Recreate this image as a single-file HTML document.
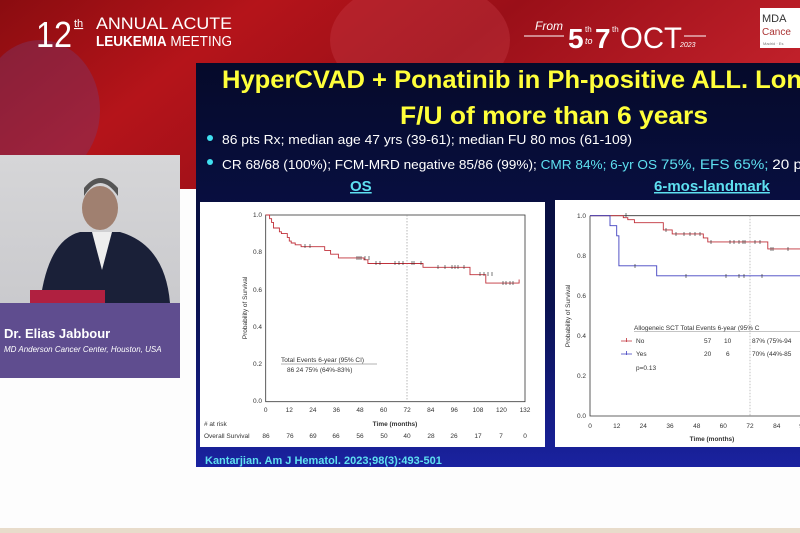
<!DOCTYPE html>
<html><head><meta charset="utf-8"><style>
html,body{margin:0;padding:0;width:800px;height:533px;overflow:hidden;background:#fff}
svg{display:block}
text{font-family:"Liberation Sans",sans-serif}
</style></head><body>
<svg width="800" height="533" viewBox="0 0 800 533" xmlns="http://www.w3.org/2000/svg">
<defs>
<linearGradient id="red" x1="0" y1="0" x2="1" y2="0.3">
<stop offset="0" stop-color="#8a0c10"/><stop offset="0.3" stop-color="#b5141a"/><stop offset="0.6" stop-color="#9a0f18"/><stop offset="1" stop-color="#c0202a"/>
</linearGradient>
<linearGradient id="slide" x1="0" y1="0" x2="0" y2="1">
<stop offset="0" stop-color="#050a2a"/><stop offset="0.6" stop-color="#0a1250"/><stop offset="1" stop-color="#1a22a0"/>
</linearGradient>
<linearGradient id="vid" x1="0" y1="0" x2="0" y2="1">
<stop offset="0" stop-color="#d6d6d8"/><stop offset="1" stop-color="#c4c4c8"/>
</linearGradient>
</defs>
<rect width="800" height="533" fill="#fdfdfd"/>
<rect x="0" y="528" width="800" height="5" fill="#e8dccb"/>
<!-- banner -->
<rect x="0" y="0" width="800" height="189" fill="url(#red)"/>
<ellipse cx="420" cy="40" rx="90" ry="60" fill="#c8404a" opacity="0.35"/>
<ellipse cx="40" cy="110" rx="60" ry="70" fill="#7a3a70" opacity="0.4"/>
<ellipse cx="630" cy="140" rx="120" ry="70" fill="#d03040" opacity="0.3"/>
<text x="36" y="47" font-size="36" fill="#fff" textLength="36" lengthAdjust="spacingAndGlyphs">12</text>
<text x="74" y="27" font-size="11" fill="#fff" text-decoration="underline">th</text>
<text x="96" y="29" font-size="17" fill="#fff" font-family="Liberation Serif,serif" textLength="136" lengthAdjust="spacingAndGlyphs">ANNUAL ACUTE</text>
<text x="96" y="46" font-size="15" fill="#fff" font-weight="bold" textLength="136" lengthAdjust="spacingAndGlyphs">LEUKEMIA<tspan font-weight="normal"> MEETING</tspan></text>
<text x="535" y="30" font-size="12" fill="#fff" font-style="italic" font-family="Liberation Serif,serif">From</text>
<line x1="524" y1="36" x2="564" y2="36" stroke="#fff" stroke-width="1"/>
<text x="568" y="48" font-size="28" fill="#fff" font-weight="bold">5</text>
<text x="585" y="32" font-size="8" fill="#fff">th</text>
<text x="585" y="44" font-size="9" fill="#fff" font-style="italic">to</text>
<text x="595" y="48" font-size="28" fill="#fff" font-weight="bold">7</text>
<text x="612" y="32" font-size="8" fill="#fff">th</text>
<text x="620" y="48" font-size="30" fill="#fff" textLength="62" lengthAdjust="spacingAndGlyphs">OCT</text>
<line x1="684" y1="36" x2="706" y2="36" stroke="#fff"/>
<text x="680" y="47" font-size="7" fill="#fff" font-style="italic">2023</text>
<rect x="760" y="8" width="40" height="40" fill="#fff"/>
<text x="762" y="22" font-size="11" fill="#333" font-family="Liberation Serif,serif">MDA</text>
<text x="762" y="35" font-size="10" fill="#a33" font-family="Liberation Serif,serif">Cance</text>
<text x="763" y="45" font-size="4" fill="#777">Madrid · Es</text>
<!-- slide -->
<rect x="196" y="63" width="604" height="404" fill="url(#slide)"/>
<text x="222" y="88" font-size="25" fill="#ffff3a" font-weight="bold" textLength="580" lengthAdjust="spacingAndGlyphs">HyperCVAD + Ponatinib in Ph-positive ALL. Lon</text>
<text x="400" y="124" font-size="25" fill="#ffff3a" font-weight="bold" textLength="308" lengthAdjust="spacingAndGlyphs">F/U of more than 6 years</text>
<circle cx="210" cy="138" r="3" fill="#40e0f0"/>
<text x="222" y="144" font-size="12.5" fill="#fff" textLength="410" lengthAdjust="spacingAndGlyphs">86 pts Rx; median age 47 yrs (39-61); median FU 80 mos (61-109)</text>
<circle cx="210" cy="162" r="3" fill="#40e0f0"/>
<text x="222" y="169" font-size="12.5" fill="#fff" textLength="580" lengthAdjust="spacingAndGlyphs">CR 68/68 (100%); FCM-MRD negative 85/86 (99%); <tspan fill="#5ee0f0">CMR 84%; 6-yr OS <tspan font-size="14">75%, EFS 65%;</tspan></tspan> <tspan font-size="14">20 p</tspan></text>
<text x="350" y="191" font-size="15" fill="#5ee0f0" font-weight="bold" text-decoration="underline">OS</text>
<text x="654" y="191" font-size="15" fill="#5ee0f0" font-weight="bold" text-decoration="underline">6-mos-landmark</text>
<text x="205" y="464" font-size="11" fill="#5ee0f0" font-weight="bold">Kantarjian. Am J Hematol. 2023;98(3):493-501</text>
<!-- left chart -->
<rect x="200" y="202" width="345" height="245" fill="#fff"/>
<g font-size="6.5" fill="#333">
<rect x="265.7" y="215" width="259.3" height="186.7" fill="none" stroke="#333" stroke-width="0.8"/>
<line x1="407" y1="215" x2="407" y2="401.7" stroke="#888" stroke-dasharray="1.5,1.5" stroke-width="0.6"/>
<text x="262" y="217" text-anchor="end">1.0</text>
<text x="262" y="254" text-anchor="end">0.8</text>
<text x="262" y="292" text-anchor="end">0.6</text>
<text x="262" y="329" text-anchor="end">0.4</text>
<text x="262" y="366" text-anchor="end">0.2</text>
<text x="262" y="403" text-anchor="end">0.0</text>
<text transform="translate(247,308) rotate(-90)" text-anchor="middle">Probability of Survival</text>
<g text-anchor="middle">
<text x="265.7" y="412">0</text><text x="289.3" y="412">12</text><text x="312.9" y="412">24</text><text x="336.4" y="412">36</text><text x="360" y="412">48</text><text x="383.6" y="412">60</text><text x="407.1" y="412">72</text><text x="430.7" y="412">84</text><text x="454.3" y="412">96</text><text x="477.9" y="412">108</text><text x="501.4" y="412">120</text><text x="525" y="412">132</text>
<text x="395" y="426" font-weight="bold">Time (months)</text>
<text x="266" y="438">86</text><text x="290" y="438">76</text><text x="313" y="438">69</text><text x="336" y="438">66</text><text x="360" y="438">56</text><text x="384" y="438">50</text><text x="407" y="438">40</text><text x="431" y="438">28</text><text x="454" y="438">26</text><text x="478" y="438">17</text><text x="501" y="438">7</text><text x="525" y="438">0</text>
</g>
<text x="204" y="426">#  at risk</text>
<text x="204" y="438">Overall Survival</text>
<text x="281" y="362">Total  Events  6-year (95% CI)</text>
<line x1="281" y1="364" x2="377" y2="364" stroke="#666" stroke-width="0.5"/>
<text x="287" y="372">86       24    75% (64%-83%)</text>
</g>
<path d="M265.7 215 H269.6 V218.7 H271.6 V222.4 H273.5 V228 H279.4 V231.8 H281.4 V233.6 H287.3 V237.4 H289.3 V241.1 H291.2 V243 H295.2 V244.8 H301.1 V246.7 H324.7 V250.4 H330.6 V254.2 H338.4 V257.9 H364 V259.8 H367.9 V263.5 H423 V267.3 H470 V274.7 H485.8 V283.1 H519.1 V279.5" fill="none" stroke="#c0303a" stroke-width="0.9"/>
<g stroke="#222" stroke-width="0.6">
<path d="M305 244v4M310 244v4M357 256v4M359 256v4M361 256v4M365 256v4M369 256v4M376 261v4M380 261v4M395 261v4M399 261v4M403 261v4M412 261v4M414 261v4M421 261v4M438 265v4M445 265v4M452 265v4M455 265v4M458 265v4M464 265v4M480 272v4M484 272v4M488 272v4M492 272v4M503 281v4M506 281v4M510 281v4M513 281v4"/>
</g>
<!-- right chart -->
<rect x="555" y="200" width="245" height="247" fill="#fff"/>
<g font-size="6.5" fill="#333">
<path d="M590 215.7 H800 M590 215.7 V416 H800" fill="none" stroke="#333" stroke-width="0.8"/>
<line x1="750" y1="215.7" x2="750" y2="416" stroke="#999" stroke-dasharray="1.5,1.5" stroke-width="0.6"/>
<text x="586" y="218" text-anchor="end">1.0</text>
<text x="586" y="258" text-anchor="end">0.8</text>
<text x="586" y="298" text-anchor="end">0.6</text>
<text x="586" y="338" text-anchor="end">0.4</text>
<text x="586" y="378" text-anchor="end">0.2</text>
<text x="586" y="418" text-anchor="end">0.0</text>
<text transform="translate(570,316) rotate(-90)" text-anchor="middle">Probability of Survival</text>
<g text-anchor="middle">
<text x="590" y="428">0</text><text x="616.7" y="428">12</text><text x="643.3" y="428">24</text><text x="670" y="428">36</text><text x="696.7" y="428">48</text><text x="723.3" y="428">60</text><text x="750" y="428">72</text><text x="776.7" y="428">84</text><text x="801" y="428">9</text>
<text x="712" y="441" font-weight="bold">Time (months)</text>
</g>
<text x="634" y="330">Allogeneic  SCT   Total   Events  6-year (95% C</text>
<line x1="634" y1="331.5" x2="800" y2="331.5" stroke="#888" stroke-width="0.5"/>
<text x="636" y="343">No</text><text x="704" y="343">57</text><text x="724" y="343">10</text><text x="752" y="343">87% (75%-94</text>
<text x="636" y="356">Yes</text><text x="704" y="356">20</text><text x="726" y="356">6</text><text x="752" y="356">70% (44%-85</text>
<text x="636" y="370">p=0.13</text>
<path d="M621 341h11M626.5 338v4" stroke="#c0303a" stroke-width="0.8"/>
<path d="M621 354h11M626.5 351v4" stroke="#4040c0" stroke-width="0.8"/>
</g>
<path d="M590 215.7 H623.3 V217.7 H627.8 V219.7 H634.4 V222.7 H663.3 V229.9 H672.2 V233.9 H703.3 V237.9 H707.8 V241.9 H767.8 V248.9 H800" fill="none" stroke="#c0303a" stroke-width="0.9"/>
<path d="M590 215.7 H610 V225.7 H616.7 V235.8 H618.9 V265.8 H656.7 V275.8 H800" fill="none" stroke="#4040c0" stroke-width="0.9"/>
<g stroke="#222" stroke-width="0.6">
<path d="M626 213v4M666 228v4M676 232v4M684 232v4M690 232v4M695 232v4M700 232v4M711 240v4M730 240v4M734 240v4M739 240v4M743 240v4M745 240v4M755 240v4M760 240v4M771 247v4M773 247v4M788 247v4M635 264v4M686 274v4M726 274v4M739 274v4M744 274v4M762 274v4"/>
</g>
<!-- speaker video -->
<rect x="0" y="155" width="180" height="223" fill="url(#vid)"/>
<ellipse cx="100" cy="208" rx="18" ry="22" fill="#a08070"/>
<path d="M84 196 Q100 170 118 196 L118 188 Q100 168 84 188Z" fill="#555"/>
<path d="M40 303 Q48 240 80 232 L120 232 Q165 245 170 303Z" fill="#1a2038"/>
<path d="M92 232 L102 270 L112 232Z" fill="#eee"/>
<rect x="30" y="290" width="75" height="14" fill="#b02040"/>
<rect x="0" y="303" width="180" height="75" fill="#5f4d8f"/>
<text x="4" y="338" font-size="13" fill="#fff" font-weight="bold">Dr. Elias Jabbour</text>
<text x="4" y="352" font-size="8" fill="#fff" font-style="italic" font-family="Liberation Serif,serif">MD Anderson Cancer Center, Houston, USA</text>
</svg>
</body></html>
